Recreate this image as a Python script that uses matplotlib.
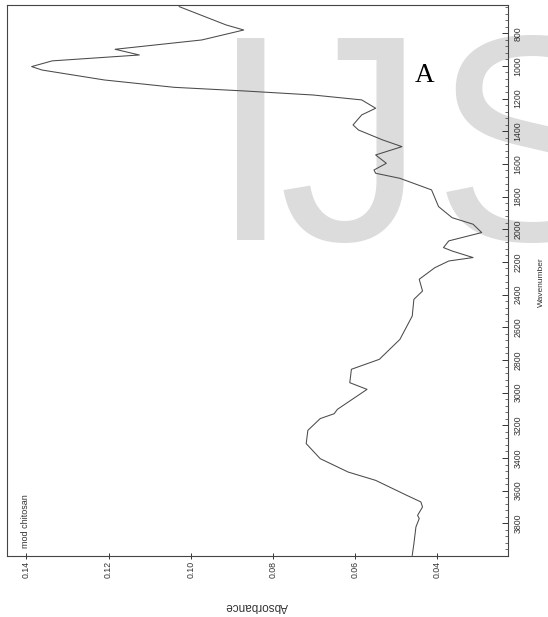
import matplotlib
matplotlib.use("Agg")
import matplotlib.pyplot as plt
from matplotlib.ticker import MultipleLocator

wavenumber = [637, 749, 780, 841, 898, 933, 969, 1004, 1025, 1076, 1086, 1131, 1153,
              1178, 1208, 1259, 1300, 1361, 1392, 1453, 1494, 1545, 1596, 1637, 1657,
              1688, 1759, 1861, 1929, 1969, 2020, 2071, 2112, 2133, 2173, 2194, 2235,
              2306, 2378, 2429, 2531, 2674, 2796, 2857, 2939, 2980, 3102, 3129, 3159,
              3231, 3312, 3404, 3486, 3537, 3629, 3669, 3700, 3751, 3771, 3822, 3925, 3996]
absorbance = [0.1028, 0.0914, 0.0871, 0.0973, 0.1184, 0.1125, 0.1337, 0.1387, 0.1362,
              0.1235, 0.1210, 0.1040, 0.0871, 0.0702, 0.0584, 0.0550, 0.0584, 0.0605,
              0.0592, 0.0533, 0.0486, 0.0550, 0.0524, 0.0554, 0.0550, 0.0491, 0.0414,
              0.0397, 0.0364, 0.0313, 0.0292, 0.0372, 0.0385, 0.0364, 0.0313, 0.0372,
              0.0406, 0.0444, 0.0436, 0.0457, 0.0461, 0.0491, 0.0541, 0.0609, 0.0613,
              0.0571, 0.0643, 0.0651, 0.0685, 0.0715, 0.0719, 0.0685, 0.0617, 0.0550,
              0.0474, 0.0440, 0.0436, 0.0448, 0.0444, 0.0452, 0.0457, 0.0461]

abs_ticks = [0.14, 0.12, 0.10, 0.08, 0.06, 0.04]
abs_labels = ["0.14", "0.12", "0.10", "0.08", "0.06", "0.04"]
wn_ticks = list(range(800, 3801, 200))

narrow = ["Liberation Sans Narrow", "Liberation Sans", "DejaVu Sans"]
sans = ["Liberation Sans", "DejaVu Sans"]

fig = plt.figure(figsize=(5.48, 6.17), dpi=100, facecolor="w")
ax = fig.add_axes([7/548, 1-556/617, 501/548, 551/617])
ax.set_facecolor("none")

# "IJS" watermark behind everything, letters placed one by one
wm = dict(va="baseline", fontsize=211, color="#dcdcdc", zorder=-1)
fig.text(251/548, 1-240/617, "I", ha="center", family=sans, **wm)
fig.text(352/548, 1-240/617, "J", ha="center", family=narrow, **wm)
fig.text(433/548, 1-240/617, "S", ha="left", family=sans, **wm)

ax.plot(absorbance, wavenumber, color="#4a4a4a", lw=0.75)

ax.set_xlim(0.1447, 0.0228)
ax.set_ylim(4000, 627)

ax.set_xticks(abs_ticks)
ax.set_xticklabels(abs_labels, rotation=90, family=narrow, fontsize=6.3, color="#333333")
ax.yaxis.tick_right()
ax.set_yticks(wn_ticks)
ax.set_yticklabels([str(w) for w in wn_ticks], rotation=90, family=narrow,
                   fontsize=6.3, color="#333333", va="center")
ax.yaxis.set_minor_locator(MultipleLocator(40))
ax.tick_params(axis="x", direction="inout", length=5, width=0.7, pad=1, colors="#333333")
ax.tick_params(axis="y", which="major", direction="in", length=4, width=0.7, pad=4, colors="#333333")
ax.tick_params(axis="y", which="minor", direction="in", length=2, width=0.6, colors="#555555")

for s in ax.spines.values():
    s.set_color("#444444")
    s.set_linewidth(0.8)

fig.text(541/548, 1-282/617, "Wavenumber", rotation=90, ha="center", va="center",
         family=narrow, fontsize=6, color="#333333")
fig.text(257/548, 1-606/617, "Absorbance", rotation=180, ha="center", va="center",
         family=sans, fontsize=8.5, color="#333333")
fig.text(26/548, 1-548/617, "mod chitosan", rotation=90, ha="center", va="bottom",
         family=narrow, fontsize=6.5, color="#333333")
fig.text(425/548, 1-82/617, "A", ha="center", va="baseline",
         family=["Liberation Serif", "DejaVu Serif"], fontsize=19.5, color="black")

plt.savefig("out.png", dpi=100)
